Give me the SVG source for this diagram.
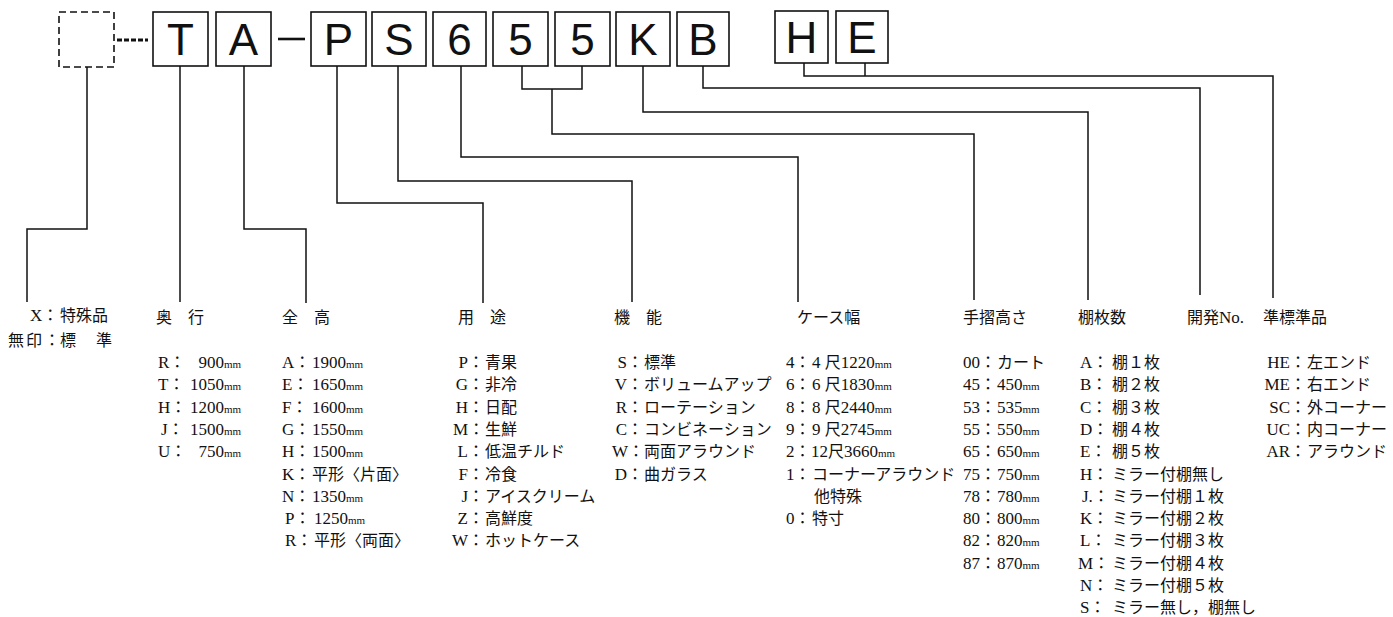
<svg xmlns="http://www.w3.org/2000/svg" width="1393" height="617" viewBox="0 0 1393 617">
<style>
.bg{fill:#fff}
.box{fill:#fff;stroke:#111;stroke-width:1.6}
.dbox{fill:#fff;stroke:#111;stroke-width:1.6;stroke-dasharray:7 4}
.big{font-family:"Liberation Sans","DejaVu Sans",sans-serif;font-size:44px;fill:#111;text-anchor:middle}
.ln{fill:none;stroke:#111;stroke-width:1.5}
.t{font-family:"Liberation Serif","Noto Sans CJK JP",serif;font-size:16px;fill:#111}
.L{font-size:17px}
.mm{font-size:11px}
</style>
<rect class="bg" x="0" y="0" width="1393" height="617"/>

<g id="code">
  <g id="box-blank"><rect class="dbox" x="59" y="12" width="55" height="55"/></g>
  <line x1="117" y1="40" x2="148" y2="40" stroke="#111" stroke-width="3" stroke-dasharray="5 2"/>
  <g id="box-T"><rect class="box" x="153" y="12" width="55" height="54"/><text class="big" x="180.5" y="55">T</text></g>
  <g id="box-A"><rect class="box" x="216" y="12" width="55" height="54"/><text class="big" x="243.5" y="55">A</text></g>
  <line x1="278" y1="39" x2="305" y2="39" stroke="#111" stroke-width="2.6"/>
  <g id="box-P"><rect class="box" x="311" y="12" width="55" height="54"/><text class="big" x="338.5" y="55">P</text></g>
  <g id="box-S"><rect class="box" x="372" y="12" width="54" height="54"/><text class="big" x="399" y="55">S</text></g>
  <g id="box-6"><rect class="box" x="433" y="12" width="53" height="54"/><text class="big" x="459.5" y="55">6</text></g>
  <g id="box-5a"><rect class="box" x="493" y="12" width="55" height="54"/><text class="big" x="520.5" y="55">5</text></g>
  <g id="box-5b"><rect class="box" x="555" y="12" width="55" height="54"/><text class="big" x="582.5" y="55">5</text></g>
  <g id="box-K"><rect class="box" x="616" y="12" width="54" height="54"/><text class="big" x="643" y="55">K</text></g>
  <g id="box-B"><rect class="box" x="677" y="12" width="52" height="54"/><text class="big" x="703" y="55">B</text></g>
  <g id="box-H"><rect class="box" x="775" y="11" width="53" height="52"/><text class="big" x="801.5" y="53">H</text></g>
  <g id="box-E"><rect class="box" x="836" y="11" width="52" height="52"/><text class="big" x="862" y="53">E</text></g>
</g>

<g id="connectors">
  <path class="ln" d="M87 67V229H27V302"/>
  <path class="ln" d="M180 66V302"/>
  <path class="ln" d="M244 66V229H306V303"/>
  <path class="ln" d="M337 66V203H483V303"/>
  <path class="ln" d="M398 66V181H632V302"/>
  <path class="ln" d="M461 66V157H798V302"/>
  <path class="ln" d="M522 66V89H582V66M552 89V134H974V300"/>
  <path class="ln" d="M643 66V112H1088V300"/>
  <path class="ln" d="M703 66V88H1200V295"/>
  <path class="ln" d="M804 63V76H865V63M865 76H1273V298"/>
</g>

<g id="col-special" class="t">
  <text y="321"><tspan x="30"><tspan class="L">X</tspan>：</tspan><tspan x="60">特殊品</tspan></text>
  <text y="346"><tspan x="8" letter-spacing="2">無印</tspan>：<tspan x="60">標</tspan><tspan x="96">準</tspan></text>
</g>

<g id="col-depth" class="t">
  <text x="156" y="323">奥　行</text>
  <text y="368"><tspan x="158"><tspan class="L">R</tspan>：</tspan><tspan class="L" x="198.5">900</tspan><tspan class="mm">mm</tspan></text>
  <text y="390.3"><tspan x="158"><tspan class="L">T</tspan>：</tspan><tspan class="L" x="190">1050</tspan><tspan class="mm">mm</tspan></text>
  <text y="412.6"><tspan x="158"><tspan class="L">H</tspan>：</tspan><tspan class="L" x="190">1200</tspan><tspan class="mm">mm</tspan></text>
  <text y="434.9"><tspan x="161"><tspan class="L">J</tspan>：</tspan><tspan class="L" x="190">1500</tspan><tspan class="mm">mm</tspan></text>
  <text y="457.2"><tspan x="158"><tspan class="L">U</tspan>：</tspan><tspan class="L" x="198.5">750</tspan><tspan class="mm">mm</tspan></text>
</g>

<g id="col-height" class="t">
  <text x="282" y="323">全　高</text>
  <text y="368"><tspan x="282"><tspan class="L">A</tspan>：</tspan><tspan class="L" x="312">1900</tspan><tspan class="mm">mm</tspan></text>
  <text y="390.3"><tspan x="282"><tspan class="L">E</tspan>：</tspan><tspan class="L" x="312">1650</tspan><tspan class="mm">mm</tspan></text>
  <text y="412.6"><tspan x="282"><tspan class="L">F</tspan>：</tspan><tspan class="L" x="312">1600</tspan><tspan class="mm">mm</tspan></text>
  <text y="434.9"><tspan x="282"><tspan class="L">G</tspan>：</tspan><tspan class="L" x="312">1550</tspan><tspan class="mm">mm</tspan></text>
  <text y="457.2"><tspan x="282"><tspan class="L">H</tspan>：</tspan><tspan class="L" x="312">1500</tspan><tspan class="mm">mm</tspan></text>
  <text y="479.5"><tspan x="282"><tspan class="L">K</tspan>：</tspan><tspan x="312">平形〈片面〉</tspan></text>
  <text y="501.8"><tspan x="282"><tspan class="L">N</tspan>：</tspan><tspan class="L" x="312">1350</tspan><tspan class="mm">mm</tspan></text>
  <text y="524.1"><tspan x="285"><tspan class="L">P</tspan>：</tspan><tspan class="L" x="314">1250</tspan><tspan class="mm">mm</tspan></text>
  <text y="546.4"><tspan x="285"><tspan class="L">R</tspan>：</tspan><tspan x="314">平形〈両面〉</tspan></text>
</g>

<g id="col-use" class="t">
  <text x="458" y="323">用　途</text>
  <text y="368"><tspan x="458.5"><tspan class="L">P</tspan>：</tspan><tspan x="485">青果</tspan></text>
  <text y="390.3"><tspan x="455.7"><tspan class="L">G</tspan>：</tspan><tspan x="485">非冷</tspan></text>
  <text y="412.6"><tspan x="455.7"><tspan class="L">H</tspan>：</tspan><tspan x="485">日配</tspan></text>
  <text y="434.9"><tspan x="453"><tspan class="L">M</tspan>：</tspan><tspan x="485">生鮮</tspan></text>
  <text y="457.2"><tspan x="457.6"><tspan class="L">L</tspan>：</tspan><tspan x="485">低温チルド</tspan></text>
  <text y="479.5"><tspan x="458.5"><tspan class="L">F</tspan>：</tspan><tspan x="485">冷食</tspan></text>
  <text y="501.8"><tspan x="461.4"><tspan class="L">J</tspan>：</tspan><tspan x="485">アイスクリーム</tspan></text>
  <text y="524.1"><tspan x="457.6"><tspan class="L">Z</tspan>：</tspan><tspan x="485">高鮮度</tspan></text>
  <text y="546.4"><tspan x="452"><tspan class="L">W</tspan>：</tspan><tspan x="485">ホットケース</tspan></text>
</g>

<g id="col-function" class="t">
  <text x="614" y="323">機　能</text>
  <text y="368"><tspan x="617.5"><tspan class="L">S</tspan>：</tspan><tspan x="644">標準</tspan></text>
  <text y="390.3"><tspan x="614.7"><tspan class="L">V</tspan>：</tspan><tspan x="644">ボリュームアップ</tspan></text>
  <text y="412.6"><tspan x="615.7"><tspan class="L">R</tspan>：</tspan><tspan x="644">ローテーション</tspan></text>
  <text y="434.9"><tspan x="615.7"><tspan class="L">C</tspan>：</tspan><tspan x="644">コンビネーション</tspan></text>
  <text y="457.2"><tspan x="612"><tspan class="L">W</tspan>：</tspan><tspan x="644">両面アラウンド</tspan></text>
  <text y="479.5"><tspan x="614.7"><tspan class="L">D</tspan>：</tspan><tspan x="644">曲ガラス</tspan></text>
</g>

<g id="col-width" class="t">
  <text x="797" y="323">ケース幅</text>
  <text y="368"><tspan x="786"><tspan class="L">4</tspan>：</tspan><tspan class="L" x="812">4 </tspan><tspan>尺</tspan><tspan class="L">1220</tspan><tspan class="mm">mm</tspan></text>
  <text y="390.3"><tspan x="786"><tspan class="L">6</tspan>：</tspan><tspan class="L" x="812">6 </tspan><tspan>尺</tspan><tspan class="L">1830</tspan><tspan class="mm">mm</tspan></text>
  <text y="412.6"><tspan x="786"><tspan class="L">8</tspan>：</tspan><tspan class="L" x="812">8 </tspan><tspan>尺</tspan><tspan class="L">2440</tspan><tspan class="mm">mm</tspan></text>
  <text y="434.9"><tspan x="786"><tspan class="L">9</tspan>：</tspan><tspan class="L" x="812">9 </tspan><tspan>尺</tspan><tspan class="L">2745</tspan><tspan class="mm">mm</tspan></text>
  <text y="457.2"><tspan x="786"><tspan class="L">2</tspan>：</tspan><tspan class="L" x="811">12</tspan><tspan>尺</tspan><tspan class="L">3660</tspan><tspan class="mm">mm</tspan></text>
  <text y="479.5"><tspan x="786"><tspan class="L">1</tspan>：</tspan><tspan x="812">コーナーアラウンド</tspan></text>
  <text x="814" y="501.8">他特殊</text>
  <text y="524.1"><tspan x="786"><tspan class="L">0</tspan>：</tspan><tspan x="812">特寸</tspan></text>
</g>

<g id="col-rail" class="t">
  <text x="963" y="323">手摺高さ</text>
  <text y="368"><tspan x="963"><tspan class="L">00</tspan>：</tspan><tspan x="997">カート</tspan></text>
  <text y="390.3"><tspan x="963"><tspan class="L">45</tspan>：</tspan><tspan class="L" x="997">450</tspan><tspan class="mm">mm</tspan></text>
  <text y="412.6"><tspan x="963"><tspan class="L">53</tspan>：</tspan><tspan class="L" x="997">535</tspan><tspan class="mm">mm</tspan></text>
  <text y="434.9"><tspan x="963"><tspan class="L">55</tspan>：</tspan><tspan class="L" x="997">550</tspan><tspan class="mm">mm</tspan></text>
  <text y="457.2"><tspan x="963"><tspan class="L">65</tspan>：</tspan><tspan class="L" x="997">650</tspan><tspan class="mm">mm</tspan></text>
  <text y="479.5"><tspan x="963"><tspan class="L">75</tspan>：</tspan><tspan class="L" x="997">750</tspan><tspan class="mm">mm</tspan></text>
  <text y="501.8"><tspan x="963"><tspan class="L">78</tspan>：</tspan><tspan class="L" x="997">780</tspan><tspan class="mm">mm</tspan></text>
  <text y="524.1"><tspan x="963"><tspan class="L">80</tspan>：</tspan><tspan class="L" x="997">800</tspan><tspan class="mm">mm</tspan></text>
  <text y="546.4"><tspan x="963"><tspan class="L">82</tspan>：</tspan><tspan class="L" x="997">820</tspan><tspan class="mm">mm</tspan></text>
  <text y="568.7"><tspan x="963"><tspan class="L">87</tspan>：</tspan><tspan class="L" x="997">870</tspan><tspan class="mm">mm</tspan></text>
</g>

<g id="col-shelves" class="t">
  <text x="1078" y="323">棚枚数</text>
  <text y="368"><tspan x="1080"><tspan class="L">A</tspan>：</tspan><tspan x="1112">棚１枚</tspan></text>
  <text y="390.3"><tspan x="1080"><tspan class="L">B</tspan>：</tspan><tspan x="1112">棚２枚</tspan></text>
  <text y="412.6"><tspan x="1080"><tspan class="L">C</tspan>：</tspan><tspan x="1112">棚３枚</tspan></text>
  <text y="434.9"><tspan x="1080"><tspan class="L">D</tspan>：</tspan><tspan x="1112">棚４枚</tspan></text>
  <text y="457.2"><tspan x="1080"><tspan class="L">E</tspan>：</tspan><tspan x="1112">棚５枚</tspan></text>
  <text y="479.5"><tspan x="1080"><tspan class="L">H</tspan>：</tspan><tspan x="1112">ミラー付棚無し</tspan></text>
  <text y="501.8"><tspan x="1082"><tspan class="L">J.</tspan>：</tspan><tspan x="1112">ミラー付棚１枚</tspan></text>
  <text y="524.1"><tspan x="1080"><tspan class="L">K</tspan>：</tspan><tspan x="1112">ミラー付棚２枚</tspan></text>
  <text y="546.4"><tspan x="1080"><tspan class="L">L</tspan>：</tspan><tspan x="1112">ミラー付棚３枚</tspan></text>
  <text y="568.7"><tspan x="1078"><tspan class="L">M</tspan>：</tspan><tspan x="1112">ミラー付棚４枚</tspan></text>
  <text y="591"><tspan x="1080"><tspan class="L">N</tspan>：</tspan><tspan x="1112">ミラー付棚５枚</tspan></text>
  <text y="613.3"><tspan x="1080"><tspan class="L">S</tspan>：</tspan><tspan x="1112">ミラー無し，棚無し</tspan></text>
</g>

<g id="col-devno" class="t">
  <text x="1187" y="323">開発<tspan class="L">No.</tspan></text>
</g>

<g id="col-semistd" class="t">
  <text x="1263" y="323">準標準品</text>
  <text y="368"><tspan x="1267.3"><tspan class="L">HE</tspan>：</tspan><tspan x="1307">左エンド</tspan></text>
  <text y="390.3"><tspan x="1264.5"><tspan class="L">ME</tspan>：</tspan><tspan x="1307">右エンド</tspan></text>
  <text y="412.6"><tspan x="1269.2"><tspan class="L">SC</tspan>：</tspan><tspan x="1307">外コーナー</tspan></text>
  <text y="434.9"><tspan x="1266.4"><tspan class="L">UC</tspan>：</tspan><tspan x="1307">内コーナー</tspan></text>
  <text y="457.2"><tspan x="1266.4"><tspan class="L">AR</tspan>：</tspan><tspan x="1307">アラウンド</tspan></text>
</g>
</svg>
